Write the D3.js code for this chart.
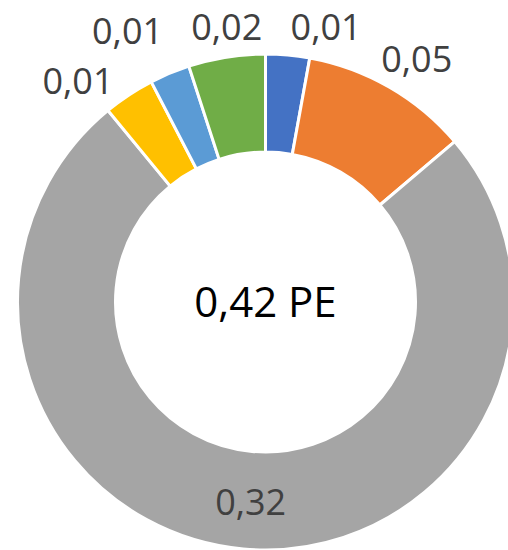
<!DOCTYPE html>
<html><head><meta charset="utf-8">
<script src="https://cdn.jsdelivr.net/npm/d3@7"></script>
<style>html,body{margin:0;padding:0;background:#fff;}svg{display:block;}</style>
</head><body>
<svg id="c" width="508" height="550"></svg>
<script>
// Data
const categories = ["A", "B", "C", "D", "E", "F"];
const values = [0.012, 0.046, 0.316, 0.014, 0.011, 0.021];
const colors = ["#4472C4", "#ED7D31", "#A5A5A5", "#FFC000", "#5B9BD5", "#70AD47"];
const centerLabel = "0,42 PE";

const cx = 265.5, cy = 302;
const outerR = 248, innerR = 150;
const fmt = v => v.toFixed(2).replace(".", ",");

const svg = d3.select("#c");
const g = svg.append("g").attr("transform", `translate(${cx},${cy})`);

const pie = d3.pie().sort(null).value(d => d.v);
const data = categories.map((c, i) => ({ c, v: values[i], col: colors[i] }));
const arcs = pie(data);
const arc = d3.arc().innerRadius(innerR).outerRadius(outerR);

g.selectAll("path").data(arcs).join("path")
  .attr("d", arc)
  .attr("fill", d => d.data.col)
  .attr("stroke", "#fff")
  .attr("stroke-width", 3)
  .attr("stroke-linejoin", "miter");

// center label
g.append("text").attr("x", 0).attr("y", 0).attr("dy", "0.36em")
  .attr("text-anchor", "middle")
  .attr("font-family", "'Open Sans', sans-serif").attr("font-size", 42)
  .attr("fill", "#000").text(centerLabel);

const fontSize = 36;
const textStyle = sel => sel.attr("font-family", "'Open Sans', sans-serif")
  .attr("font-size", fontSize).attr("fill", "#404040").attr("text-anchor", "middle");

const inside = arcs.filter(a => (a.endAngle - a.startAngle) > Math.PI);
const outside = arcs.filter(a => (a.endAngle - a.startAngle) <= Math.PI);

g.selectAll("text.in").data(inside).join("text").attr("class", "in")
  .call(textStyle)
  .attr("x", d => arc.centroid(d)[0] + 3)
  .attr("y", d => arc.centroid(d)[1] + 2)
  .attr("dy", "0.36em")
  .text(d => fmt(d.data.v));

// outside labels: placed at mid-angle, then overlaps resolved
const labR = outerR + 19;
const minY = -cy + 27; // keep label glyph box inside the picture
const labels = outside.map(d => {
  let a = (d.startAngle + d.endAngle) / 2;
  if (a > Math.PI) a -= 2 * Math.PI;
  return { d, a, text: fmt(d.data.v) };
}).sort((p, q) => p.a - q.a);

const tsel = g.selectAll("text.out").data(labels).join("text").attr("class", "out")
  .call(textStyle).attr("dy", "0.36em").text(d => d.text);
tsel.each(function (d) {
  d.w = this.getComputedTextLength(); d.h = 26;
  const s = Math.sin(d.a), c = Math.cos(d.a);
  d.x = (labR + d.w / 2) * s;
  d.y = Math.max(minY, -(labR + d.h / 2) * c);
});

const padX = 28, yTol = 24, boxH = 50, step = 0.25;
for (let it = 0; it < 3000; it++) {
  let moved = false;
  for (let i = 0; i < labels.length - 1; i++) {
    const p = labels[i], q = labels[i + 1];
    const dx = q.x - p.x, dy = q.y - p.y;
    const needX = (p.w + q.w) / 2 + padX;
    if (Math.abs(dy) < yTol && Math.abs(dx) < needX) {
      const sg = dx >= 0 ? 1 : -1;
      p.x -= sg * step; q.x += sg * step; moved = true;
    } else if (Math.abs(dy) >= yTol && Math.abs(dx) < (p.w + q.w) / 2 && Math.abs(dy) < boxH) {
      const len = Math.hypot(dx, dy) || 1;
      const ux = dx / len, uy = dy / len;
      p.x -= ux * step; p.y = Math.max(minY, p.y - uy * step);
      q.x += ux * step; q.y = Math.max(minY, q.y + uy * step); moved = true;
    }
  }
  if (!moved) break;
}
tsel.attr("x", d => d.x).attr("y", d => d.y);
</script>
</body></html>
